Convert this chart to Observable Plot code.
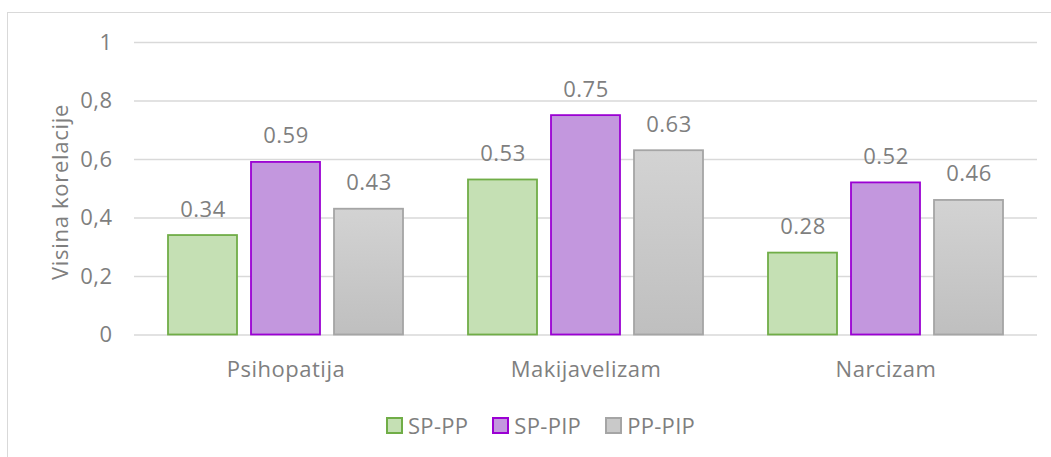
<!DOCTYPE html>
<html>
<head>
<meta charset="utf-8">
<script src="https://cdn.jsdelivr.net/npm/d3@7"></script>
<script src="https://cdn.jsdelivr.net/npm/@observablehq/plot@0.6"></script>
<style>
  html, body { margin: 0; padding: 0; background: #fff; overflow: hidden; width: 1051px; height: 457px; }
  #wrap { position: relative; width: 1051px; height: 457px; font-family: "Open Sans", sans-serif; color: #7f7f7f; letter-spacing: 0.5px; }
  #border { position: absolute; left: 7px; top: 12px; width: 2000px; height: 2000px; border: 1.5px solid #d9d9d9; box-sizing: border-box; }
  #grid, #chart { position: absolute; left: 0; top: 0; }
  #ytitle { position: absolute; left: 59px; top: 192px; transform: translate(-50%, -50%) rotate(-90deg); white-space: nowrap; font-size: 22px; letter-spacing: 0.7px; }
  #legend { position: absolute; left: 386px; top: 410px; display: flex; align-items: center; font-size: 22px; letter-spacing: 0.3px; }
  .item { display: flex; align-items: center; margin-right: 24px; }
  .sw { width: 13px; height: 13px; border: 2px solid; margin-right: 5px; }
</style>
</head>
<body>
<div id="wrap">
  <div id="border"></div>
  <div id="grid"></div>
  <div id="chart"></div>
  <div id="ytitle"></div>
  <div id="legend"></div>
</div>
<script>
const categories = ["Psihopatija", "Makijavelizam", "Narcizam"];
const series = ["SP-PP", "SP-PIP", "PP-PIP"];
const spPP  = [0.34, 0.53, 0.28];
const spPIP = [0.59, 0.75, 0.52];
const ppPIP = [0.43, 0.63, 0.46];
const yTicks = [0, 0.2, 0.4, 0.6, 0.8, 1];
const yTitle = "Visina korelacije";

const fills   = {"SP-PP": "#c5e0b4", "SP-PIP": "#c397de", "PP-PIP": "url(#grayGrad)"};
const strokes = {"SP-PP": "#70ad47", "SP-PIP": "#9b00d3", "PP-PIP": "#a5a5a5"};
const legendFills = {"SP-PP": "#c5e0b4", "SP-PIP": "#c397de", "PP-PIP": "#c9c9c9"};

const valuesBySeries = {"SP-PP": spPP, "SP-PIP": spPIP, "PP-PIP": ppPIP};
const data = categories.flatMap((c, i) => series.map(s => ({cat: c, s, v: valuesBySeries[s][i]})));

const common = {
  width: 1051,
  height: 395,
  marginLeft: 134,
  marginRight: 14,
  marginTop: 42,
  marginBottom: 60.5,
  style: {fontFamily: "'Open Sans', sans-serif", fontSize: "22px", color: "#7f7f7f", background: "transparent", letterSpacing: "0.5px"}
};

// Background layer: gridlines spanning the whole frame + y axis
const gridPlot = Plot.plot({
  ...common,
  y: {domain: [0, 1], label: null},
  x: {axis: null},
  marks: [
    Plot.ruleY(yTicks, {stroke: "#d9d9d9", strokeWidth: 1.3}),
    Plot.axisY(yTicks, {tickSize: 0, tickPadding: 22, fontSize: 22,
      tickFormat: d => String(d).replace(".", ","), label: null})
  ]
});
document.getElementById("grid").appendChild(gridPlot);

// Foreground layer: grouped bars
const chart = Plot.plot({
  ...common,
  fx: {domain: categories, paddingInner: 0.217, paddingOuter: 0.11, label: null},
  x: {domain: series, paddingInner: 0.17, paddingOuter: 0, axis: null},
  y: {domain: [0, 1], label: null, axis: null},
  marks: [
    Plot.axisFx({anchor: "bottom", tickSize: 0, tickPadding: 26.5, fontSize: 22, label: null}),
    Plot.barY(data, {fx: "cat", x: "s", y: "v",
      fill: d => fills[d.s], stroke: d => strokes[d.s], strokeWidth: 1.8}),
    Plot.text(data, {fx: "cat", x: "s", y: "v", text: d => d3.format(".2f")(d.v),
      lineAnchor: "bottom", dy: -19, fontSize: 22, fill: "#7f7f7f"})
  ]
});

const svg = d3.select(chart);
const defs = svg.insert("defs", ":first-child");
const g = defs.append("linearGradient").attr("id", "grayGrad").attr("x1", 0).attr("y1", 0).attr("x2", 0).attr("y2", 1);
g.append("stop").attr("offset", "0%").attr("stop-color", "#d3d3d3");
g.append("stop").attr("offset", "100%").attr("stop-color", "#bfbfbf");

document.getElementById("chart").appendChild(chart);
document.getElementById("ytitle").textContent = yTitle;

const legend = d3.select("#legend");
series.forEach(s => {
  const it = legend.append("div").attr("class", "item");
  it.append("div").attr("class", "sw").style("background", legendFills[s]).style("border-color", strokes[s]);
  it.append("span").text(s);
});
</script>
</body>
</html>
